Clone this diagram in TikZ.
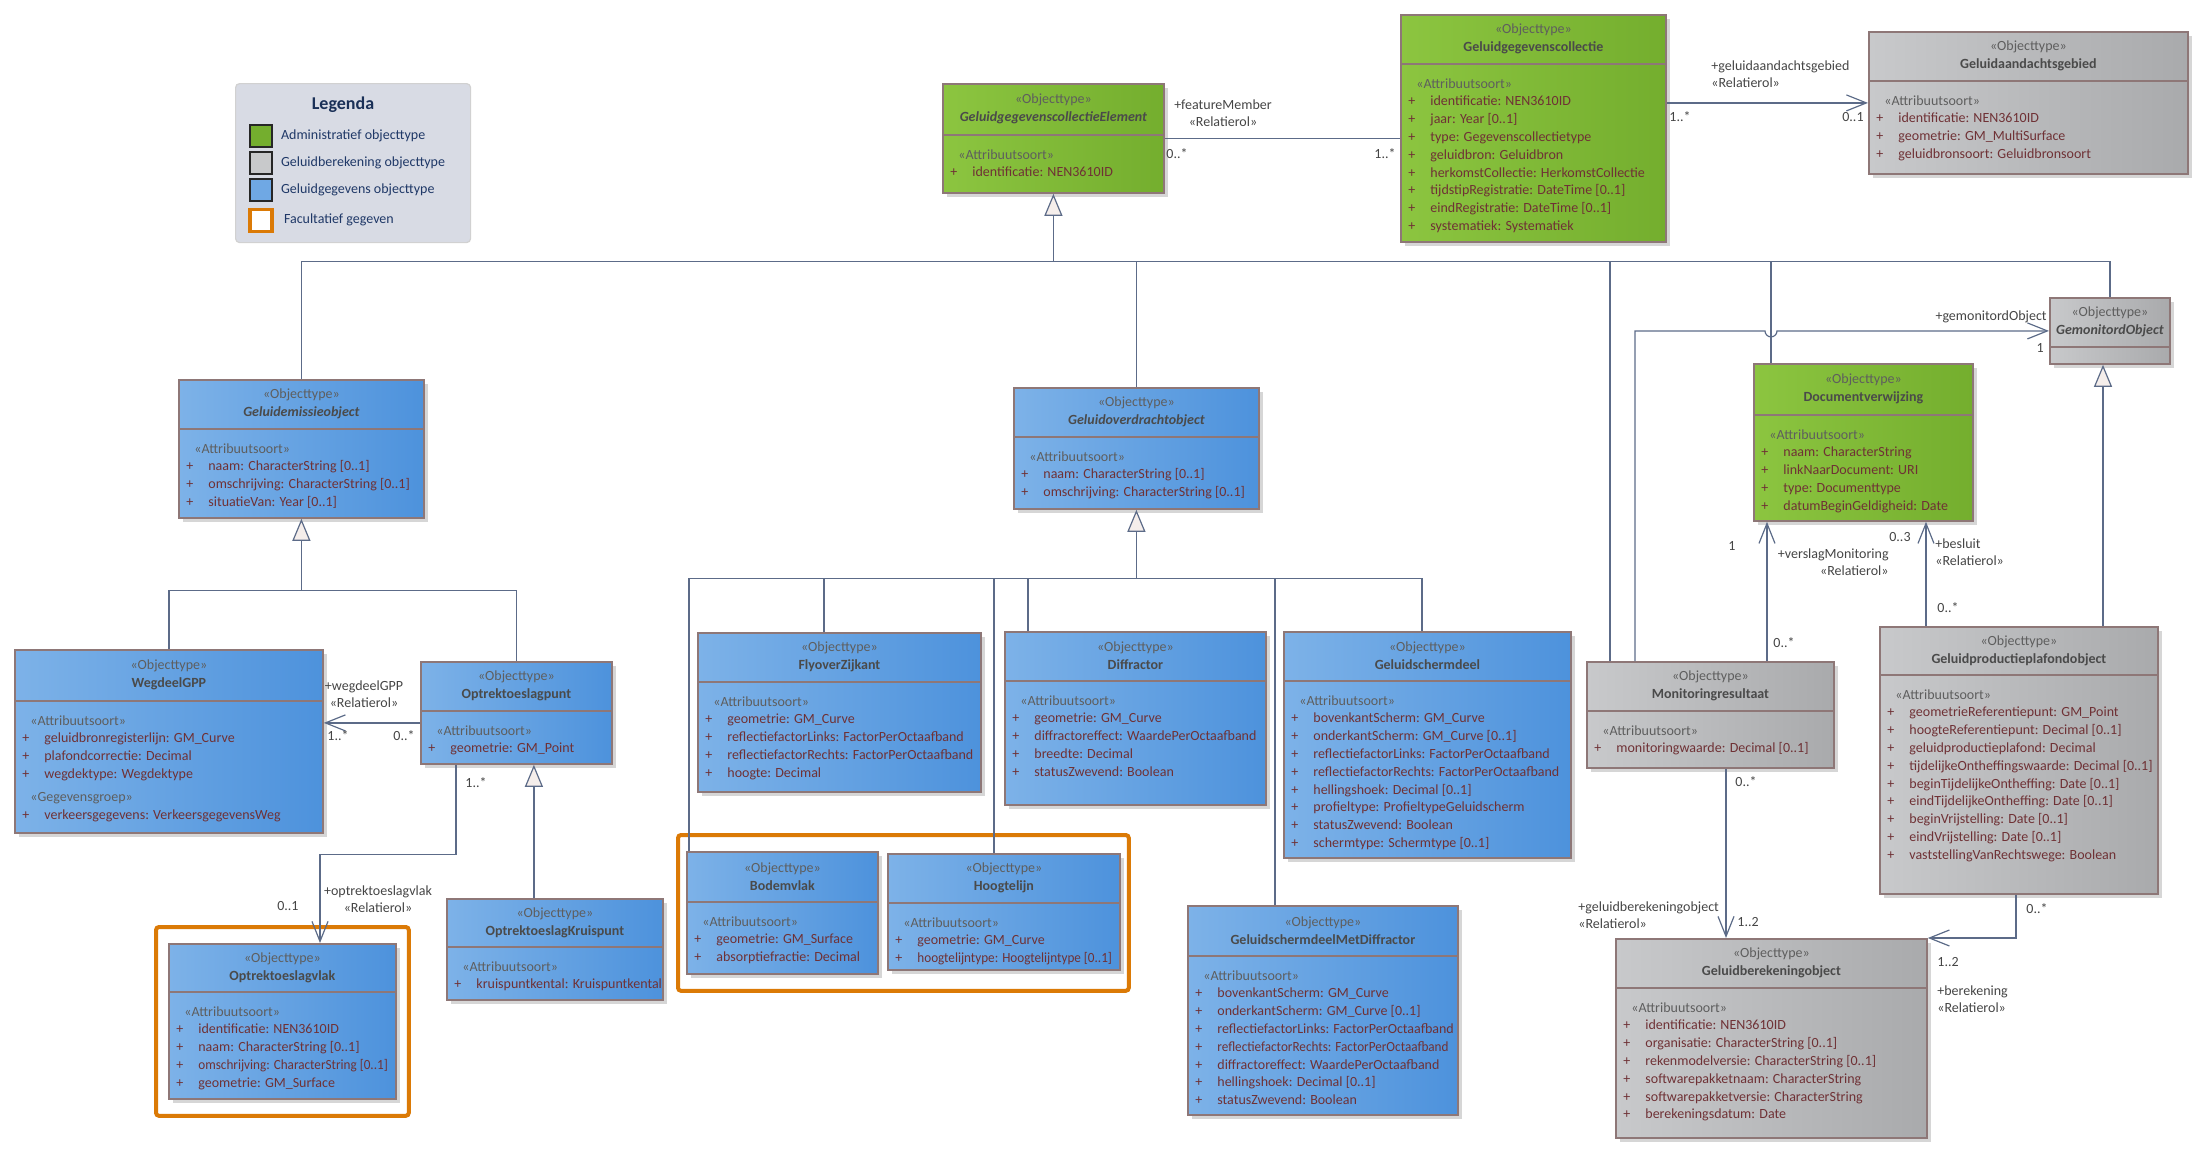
\documentclass[tikz,border=0pt]{standalone}
\usepackage{fontspec}
\setmainfont{Carlito}
\usepackage{graphicx}
\usetikzlibrary{arrows.meta, positioning, shadows, fit}

\definecolor{blauwL}{HTML}{7DB2E8}
\definecolor{blauwR}{HTML}{4D92DC}
\definecolor{groenL}{HTML}{8CC540}
\definecolor{groenR}{HTML}{74AE2E}
\definecolor{grijsL}{HTML}{C8C9CB}
\definecolor{grijsR}{HTML}{A9AAAC}
\definecolor{rand}{HTML}{8E7777}
\definecolor{lijnkleur}{HTML}{5C6B88}
\definecolor{genfill}{HTML}{F5EEEB}
\definecolor{stereo}{HTML}{5E5E5E}
\definecolor{titel}{HTML}{4A4A4A}
\definecolor{attrkleur}{HTML}{6F3135}
\definecolor{oranje}{HTML}{DB7A06}
\definecolor{legfill}{HTML}{D8DBE4}
\definecolor{legtekst}{HTML}{1F3867}
\definecolor{labelkleur}{HTML}{454545}

% regels in de attribuutvakken
\newcommand{\stereo}[1]{\hspace*{4pt}{\color{stereo}«#1»}}
\newcommand{\pa}[1]{\makebox[11pt][l]{+}#1}
\newcommand{\smal}[1]{\scalebox{0.94}[1]{#1}}

% objecttype: naam, kleur, x, y, breedte, hoogte, kophoogte (px), titel, attributen
\newcommand{\objtype}[9]{%
  \node[objbox, #2, minimum width=#5*0.5pt, minimum height=#6*0.5pt, anchor=north west] (#1) at (#3,#4) {};
  \ifnum#7<#6\relax
    \draw[scheiding] ([yshift=-#7*0.5pt]#1.north west) -- ([yshift=-#7*0.5pt]#1.north east);
  \fi
  \node[kop] (#1-kop) at ([yshift=-#7*0.25pt]#1.north) {{\mdseries\color{stereo}«Objecttype»}\\#8};
  \node[attrs] (#1-attr) at ([shift={(8,#7+14)}]#1.north west) {#9};
}

\begin{document}
\begin{tikzpicture}[
    x=0.5pt, y=-0.5pt,
    objbox/.style={rectangle, draw=rand, line width=0.9pt, inner sep=0pt,
      drop shadow={shadow xshift=2pt, shadow yshift=-2pt, fill=black, opacity=0.16}},
    blauw/.style={left color=blauwL, right color=blauwR},
    groen/.style={left color=groenL, right color=groenR},
    grijs/.style={left color=grijsL, right color=grijsR},
    scheiding/.style={draw=rand, line width=0.6pt},
    kop/.style={font=\fontsize{7}{9}\selectfont\bfseries, text=titel, align=center, inner sep=0pt},
    attrs/.style={anchor=north west, font=\fontsize{7}{8.9}\selectfont, text=attrkleur, align=left, inner sep=0pt},
    lijn/.style={draw=lijnkleur, line width=0.6pt},
    gen/.style={lijn, -{Triangle[length=11pt, width=9pt, fill=genfill]}},
    assoc/.style={lijn, -{Straight Barb[length=10pt, width=8pt]}},
    lbl/.style={font=\fontsize{7}{8.6}\selectfont, text=labelkleur, inner sep=0pt},
    facultatief/.style={draw=oranje, line width=2pt, rounded corners=1.5pt},
    legbox/.style={rectangle, draw=black!18, fill=legfill, rounded corners=2pt, line width=0.6pt},
    swatch/.style={rectangle, draw=black!85, line width=0.7pt, minimum size=11pt, inner sep=0pt},
    legtxt/.style={font=\fontsize{7}{8}\selectfont, text=legtekst, inner sep=0pt}
  ]
  \useasboundingbox (0,0) rectangle (2208,1153);

  % Legenda
  \node[legbox, minimum width=117.5pt, minimum height=79.5pt, anchor=north west] (legenda) at (235,83) {};
  \node[font=\fontsize{9}{10}\selectfont\bfseries, text=legtekst!85!black] (legkop) at (343,105) {Legenda};
  \node[swatch, fill=groenR] (sw1) at (261,136) {};
  \node[legtxt, right=4pt of sw1] (sw1t) {Administratief objecttype};
  \node[swatch, fill=grijsL, below=1.8pt of sw1] (sw2) {};
  \node[legtxt, right=4pt of sw2] (sw2t) {Geluidberekening objecttype};
  \node[swatch, fill=blauwL!70!blauwR, below=1.8pt of sw2] (sw3) {};
  \node[legtxt, right=4pt of sw3] (sw3t) {Geluidgegevens objecttype};
  \node[swatch, draw=oranje, line width=1.6pt, fill=white, below=3pt of sw3] (sw4) {};
  \node[legtxt, right=5pt of sw4] (sw4t) {Facultatief gegeven};

  % Administratieve objecttypen
  \objtype{ggce}{groen}{942}{83}{221}{109}{52}{\itshape GeluidgegevenscollectieElement}
    {\stereo{Attribuutsoort}\\\pa{identificatie: NEN3610ID}}
  \objtype{ggc}{groen}{1400}{14}{265}{227}{50}{Geluidgegevenscollectie}
    {\stereo{Attribuutsoort}\\\pa{identificatie: NEN3610ID}\\\pa{jaar: Year [0..1]}\\
     \pa{type: Gegevenscollectietype}\\\pa{geluidbron: Geluidbron}\\
     \pa{herkomstCollectie: HerkomstCollectie}\\\pa{tijdstipRegistratie: DateTime [0..1]}\\
     \pa{eindRegistratie: DateTime [0..1]}\\\pa{systematiek: Systematiek}}
  \objtype{dv}{groen}{1753}{363}{219}{157}{52}{Documentverwijzing}
    {\stereo{Attribuutsoort}\\\pa{naam: CharacterString}\\\pa{linkNaarDocument: URI}\\
     \pa{type: Documenttype}\\\pa{datumBeginGeldigheid: Date}}

  % Geluidberekening objecttypen
  \objtype{gag}{grijs}{1868}{31}{319}{142}{50}{Geluidaandachtsgebied}
    {\stereo{Attribuutsoort}\\\pa{identificatie: NEN3610ID}\\\pa{geometrie: GM\_MultiSurface}\\
     \pa{geluidbronsoort: Geluidbronsoort}}
  \objtype{gmo}{grijs}{2049}{297}{120}{66}{50}{\itshape GemonitordObject}{}
  \objtype{mr}{grijs}{1586}{661}{247}{106}{50}{Monitoringresultaat}
    {\stereo{Attribuutsoort}\\\pa{monitoringwaarde: Decimal [0..1]}}
  \objtype{gppo}{grijs}{1879}{626}{278}{267}{49}{Geluidproductieplafondobject}
    {\stereo{Attribuutsoort}\\\pa{geometrieReferentiepunt: GM\_Point}\\
     \pa{hoogteReferentiepunt: Decimal [0..1]}\\\pa{geluidproductieplafond: Decimal}\\
     \pa{tijdelijkeOntheffingswaarde: Decimal [0..1]}\\\pa{beginTijdelijkeOntheffing: Date [0..1]}\\
     \pa{eindTijdelijkeOntheffing: Date [0..1]}\\\pa{beginVrijstelling: Date [0..1]}\\
     \pa{eindVrijstelling: Date [0..1]}\\\pa{vaststellingVanRechtswege: Boolean}}
  \objtype{gbo}{grijs}{1615}{938}{311}{199}{50}{Geluidberekeningobject}
    {\stereo{Attribuutsoort}\\\pa{identificatie: NEN3610ID}\\\pa{organisatie: CharacterString [0..1]}\\
     \pa{rekenmodelversie: CharacterString [0..1]}\\\pa{softwarepakketnaam: CharacterString}\\
     \pa{softwarepakketversie: CharacterString}\\\pa{berekeningsdatum: Date}}

  % Geluidgegevens objecttypen
  \objtype{geo}{blauw}{178}{379}{245}{138}{50}{\itshape Geluidemissieobject}
    {\stereo{Attribuutsoort}\\\pa{naam: CharacterString [0..1]}\\
     \pa{omschrijving: CharacterString [0..1]}\\\pa{situatieVan: Year [0..1]}}
  \objtype{goo}{blauw}{1013}{387}{245}{121}{50}{\itshape Geluidoverdrachtobject}
    {\stereo{Attribuutsoort}\\\pa{naam: CharacterString [0..1]}\\\pa{omschrijving: CharacterString [0..1]}}
  \objtype{wg}{blauw}{14}{649}{308}{183}{52}{WegdeelGPP}
    {\stereo{Attribuutsoort}\\\pa{geluidbronregisterlijn: GM\_Curve}\\\pa{plafondcorrectie: Decimal}\\
     \pa{wegdektype: Wegdektype}\\[2.5pt]\stereo{Gegevensgroep}\\
     \pa{verkeersgegevens: VerkeersgegevensWeg}}
  \objtype{otp}{blauw}{420}{661}{191}{102}{50}{Optrektoeslagpunt}
    {\stereo{Attribuutsoort}\\\pa{geometrie: GM\_Point}}
  \objtype{fz}{blauw}{697}{632}{283}{159}{50}{FlyoverZijkant}
    {\stereo{Attribuutsoort}\\\pa{geometrie: GM\_Curve}\\\pa{reflectiefactorLinks: FactorPerOctaafband}\\
     \pa{reflectiefactorRechts: FactorPerOctaafband}\\\pa{hoogte: Decimal}}
  \objtype{df}{blauw}{1004}{631}{261}{173}{50}{Diffractor}
    {\stereo{Attribuutsoort}\\\pa{geometrie: GM\_Curve}\\\pa{diffractoreffect: WaardePerOctaafband}\\
     \pa{breedte: Decimal}\\\pa{statusZwevend: Boolean}}
  \objtype{gsd}{blauw}{1283}{631}{287}{226}{50}{Geluidschermdeel}
    {\stereo{Attribuutsoort}\\\pa{bovenkantScherm: GM\_Curve}\\\pa{onderkantScherm: GM\_Curve [0..1]}\\
     \pa{reflectiefactorLinks: FactorPerOctaafband}\\\pa{reflectiefactorRechts: FactorPerOctaafband}\\
     \pa{hellingshoek: Decimal [0..1]}\\\pa{profieltype: ProfieltypeGeluidscherm}\\
     \pa{statusZwevend: Boolean}\\\pa{schermtype: Schermtype [0..1]}}
  \objtype{bv}{blauw}{686}{851}{191}{122}{51}{Bodemvlak}
    {\stereo{Attribuutsoort}\\\pa{geometrie: GM\_Surface}\\\pa{absorptiefractie: Decimal}}
  \objtype{hl}{blauw}{887}{853}{232}{116}{50}{Hoogtelijn}
    {\stereo{Attribuutsoort}\\\pa{geometrie: GM\_Curve}\\\pa{\smal{hoogtelijntype: Hoogtelijntype [0..1]}}}
  \objtype{ok}{blauw}{446}{898}{216}{101}{49}{OptrektoeslagKruispunt}
    {\stereo{Attribuutsoort}\\\pa{kruispuntkental: Kruispuntkental}}
  \objtype{ovl}{blauw}{168}{943}{227}{155}{49}{Optrektoeslagvlak}
    {\stereo{Attribuutsoort}\\\pa{identificatie: NEN3610ID}\\\pa{naam: CharacterString [0..1]}\\
     \pa{\smal{omschrijving: CharacterString [0..1]}}\\\pa{geometrie: GM\_Surface}}
  \objtype{gsmd}{blauw}{1187}{905}{270}{209}{51}{GeluidschermdeelMetDiffractor}
    {\stereo{Attribuutsoort}\\\pa{bovenkantScherm: GM\_Curve}\\\pa{onderkantScherm: GM\_Curve [0..1]}\\
     \pa{reflectiefactorLinks: FactorPerOctaafband}\\\pa{\smal{reflectiefactorRechts: FactorPerOctaafband}}\\
     \pa{diffractoreffect: WaardePerOctaafband}\\\pa{hellingshoek: Decimal [0..1]}\\
     \pa{statusZwevend: Boolean}}

  % Facultatieve gegevens
  \node[facultatief, fit=(ovl), inner xsep=6pt, inner ysep=8pt] (fac1) {};
  \node[facultatief, fit=(bv)(hl), inner xsep=4pt, inner ysep=8pt] (fac2) {};

  % Generalisaties naar GeluidgegevenscollectieElement
  \coordinate (tak1) at ([yshift=-34pt]ggce.south);
  \coordinate (mr-gen) at ([xshift=12pt]mr.north west);
  \coordinate (dv-gen) at ([xshift=9pt]dv.north west);
  \draw[gen] (tak1) -- (ggce.south);
  \draw[lijn] (geo.north) |- (tak1);
  \draw[lijn] (goo.north) |- (tak1);
  \draw[lijn] (tak1) -| (mr-gen);
  \draw[lijn] (tak1) -| (dv-gen);
  \draw[lijn] (tak1) -| (gmo.north);

  % Generalisaties naar Geluidemissieobject
  \coordinate (tak3) at ([yshift=-36pt]geo.south);
  \draw[gen] (tak3) -- (geo.south);
  \draw[lijn] (wg.north) |- (tak3);
  \draw[lijn] (otp.north) |- (tak3);

  % Generalisaties naar Geluidoverdrachtobject
  \coordinate (tak2) at ([yshift=-34.5pt]goo.south);
  \coordinate (bv-gen) at ([xshift=1.5pt]bv.north west);
  \coordinate (fz-gen) at ([xshift=63.5pt]fz.north west);
  \coordinate (hl-gen) at ([xshift=53.5pt]hl.north west);
  \coordinate (df-gen) at ([xshift=12pt]df.north west);
  \coordinate (gsmd-gen) at ([xshift=44pt]gsmd.north west);
  \coordinate (gsd-gen) at ([xshift=69.5pt]gsd.north west);
  \draw[gen] (tak2) -- (goo.south);
  \draw[lijn] (tak2) -| (bv-gen);
  \draw[lijn] (tak2) -| (fz-gen);
  \draw[lijn] (tak2) -| (hl-gen);
  \draw[lijn] (tak2) -| (df-gen);
  \draw[lijn] (tak2) -| (gsmd-gen);
  \draw[lijn] (tak2) -| (gsd-gen);

  % Overige generalisaties
  \coordinate (ok-gen) at ([xshift=-10.5pt]ok.north);
  \draw[gen] (ok-gen) -- (ok-gen |- otp.south);
  \coordinate (gppo-gen) at ([xshift=112pt]gppo.north west);
  \draw[gen] (gppo-gen) -- (gppo-gen |- gmo.south);

  % Associaties
  \draw[lijn] (ggce.east) -- (ggce.east -| ggc.west);
  \node[lbl, align=center] (fm-rol) at (1223,113) {+featureMember\\«Relatierol»};
  \node[lbl, anchor=west] (fm-0) at (1166,154) {0..*};
  \node[lbl, anchor=east] (fm-1) at (1396,154) {1..*};

  \draw[assoc] (gag.west -| ggc.east) -- (gag.west);
  \node[lbl, align=left, anchor=west] (gag-rol) at (1711,74) {+geluidaandachtsgebied\\«Relatierol»};
  \node[lbl, anchor=west] (gag-1) at (1669,117) {1..*};
  \node[lbl, anchor=east] (gag-0) at (1864,117) {0..1};

  \coordinate (otp-wg) at ([yshift=-5pt]otp.west);
  \draw[assoc] (otp-wg) -- (otp-wg -| wg.east);
  \node[lbl, align=center] (wg-rol) at (364,694) {+wegdeelGPP\\«Relatierol»};
  \node[lbl, anchor=west] (wg-1) at (327,736) {1..*};
  \node[lbl, anchor=east] (wg-0) at (415,736) {0..*};

  \coordinate (otp-ovl) at ([xshift=18pt]otp.south west);
  \coordinate (ovl-in) at ([xshift=76pt]ovl.north west);
  \draw[assoc] (otp-ovl) -- ++(0,90) -| (ovl-in);
  \node[lbl, anchor=west] (otp-1) at (465,783) {1..*};
  \node[lbl, align=center] (ovl-rol) at (378,899) {+optrektoeslagvlak\\«Relatierol»};
  \node[lbl, anchor=east] (ovl-0) at (299,906) {0..1};

  \coordinate (mr-gmo) at ([xshift=24.5pt]mr.north west);
  \coordinate (hop) at (dv-gen |- gmo.west);
  \draw[assoc] (mr-gmo) |- ([xshift=-3pt]hop) arc[start angle=180, end angle=360, radius=3pt] -- (gmo.west);
  \node[lbl, anchor=east] (gmo-rol) at (2047,317) {+gemonitordObject};
  \node[lbl, anchor=east] (gmo-1) at (2044,348) {1};

  \coordinate (mr-dv) at ([xshift=90.5pt]mr.north west);
  \draw[assoc] (mr-dv) -- (mr-dv |- dv.south);
  \node[lbl] (vm-1) at (1732,546) {1};
  \node[lbl, align=right, anchor=east] (vm-rol) at (1889,562) {+verslagMonitoring\\«Relatierol»};
  \node[lbl, anchor=west] (vm-0) at (1773,643) {0..*};

  \coordinate (gppo-dv) at ([xshift=23.5pt]gppo.north west);
  \draw[assoc] (gppo-dv) -- (gppo-dv |- dv.south);
  \node[lbl, anchor=east] (bs-3) at (1911,537) {0..3};
  \node[lbl, align=left, anchor=west] (bs-rol) at (1935,552) {+besluit\\«Relatierol»};
  \node[lbl, anchor=west] (bs-0) at (1937,608) {0..*};

  \coordinate (mr-gbo) at ([xshift=70pt]mr.south west);
  \draw[assoc] (mr-gbo) -- (mr-gbo |- gbo.north);
  \node[lbl, anchor=west] (gb-0) at (1735,782) {0..*};
  \node[lbl, align=left, anchor=west] (gb-rol) at (1578,915) {+geluidberekeningobject\\«Relatierol»};
  \node[lbl, anchor=west] (gb-12) at (1737,922) {1..2};

  \coordinate (gppo-gbo) at ([xshift=68.5pt]gppo.south west);
  \draw[assoc] (gppo-gbo) |- (gbo.north east);
  \node[lbl, anchor=west] (bk-0) at (2026,909) {0..*};
  \node[lbl, anchor=west] (bk-12) at (1937,962) {1..2};
  \node[lbl, align=left, anchor=west] (bk-rol) at (1937,999) {+berekening\\«Relatierol»};
\end{tikzpicture}
\end{document}
